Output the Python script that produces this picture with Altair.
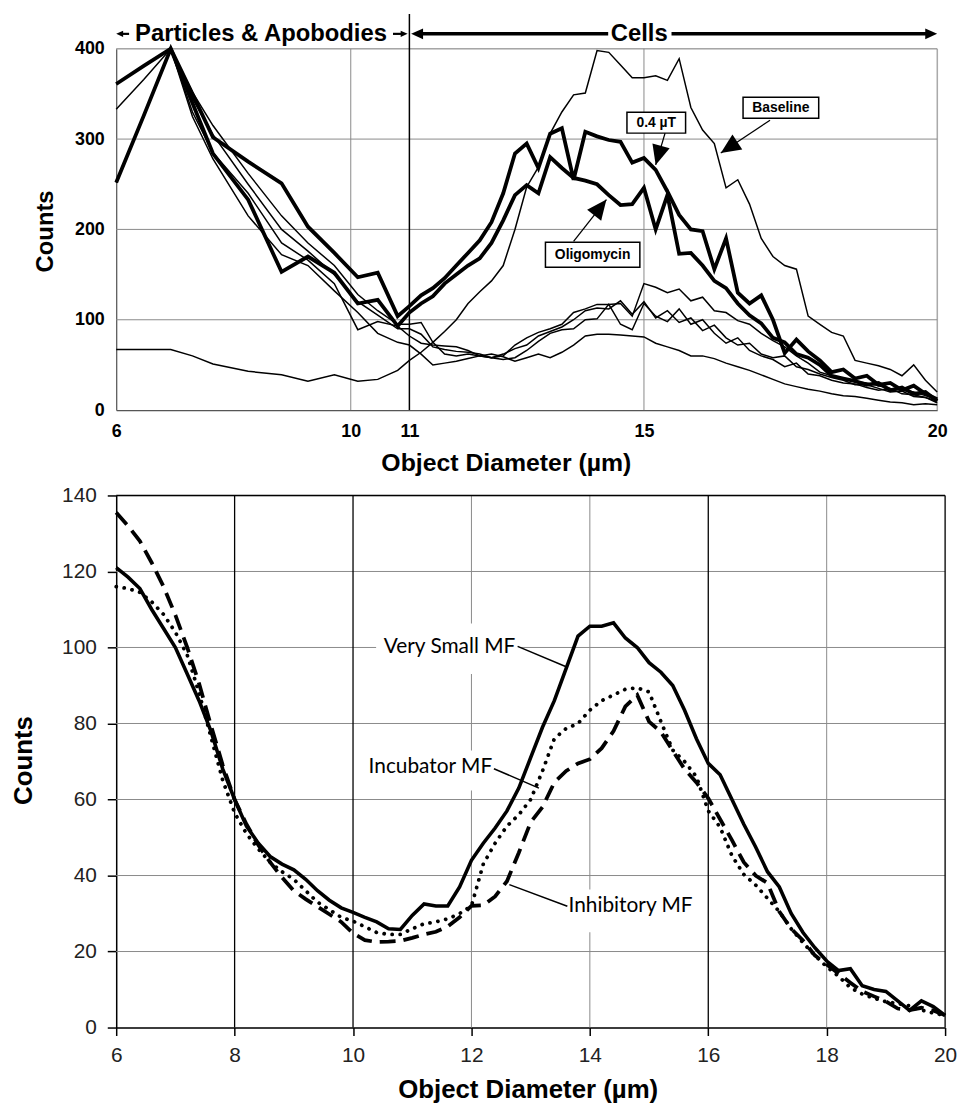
import altair as alt
import pandas as pd

FONT = "Liberation Sans"
LFONT = "Lato"

# ---------------- top panel data ----------------
top_x = [6.0, 6.47, 6.93, 7.3, 7.65, 8.25, 8.82, 9.27, 9.72, 10.12, 10.46, 10.8,
         11.0, 11.2, 11.4, 11.6, 11.8, 12.0, 12.2, 12.4, 12.6, 12.8,
         13.0, 13.2, 13.4, 13.6, 13.8, 14.0, 14.2, 14.4, 14.6, 14.8,
         15.0, 15.2, 15.4, 15.6, 15.8, 16.0, 16.2, 16.4, 16.6, 16.8,
         17.0, 17.2, 17.4, 17.6, 17.8, 18.0, 18.2, 18.4, 18.6, 18.8,
         19.0, 19.2, 19.4, 19.6, 19.8, 20.0]

baseline = [67, 67, 67, 60, 51, 43, 39, 32, 39, 32, 34, 44,
            55, 64, 75, 87, 100, 118, 131, 143, 160, 200,
            247, 269, 306, 330, 349, 351, 398, 396, 382, 368,
            368, 370, 365, 389, 335, 310, 295, 246, 255, 228,
            190, 170, 160, 156, 104, 95, 86, 82, 55, 52,
            49, 45, 38, 50, 33, 20]
uT04 = [361, 381, 400, 350, 302, 275, 251, 203, 174, 147, 152, 104,
        115, 127, 135, 146, 160, 174, 188, 208, 240, 284,
        295, 268, 306, 312, 255, 308, 303, 299, 297, 274,
        279, 266, 242, 216, 200, 198, 156, 190, 130, 118,
        127, 100, 63, 78, 65, 55, 42, 45, 35, 38,
        28, 30, 22, 27, 18, 12]
oligomycin = [252, 326, 400, 340, 284, 233, 153, 170, 152, 118, 122, 93,
              108, 118, 126, 140, 150, 160, 168, 185, 210, 238,
              249, 240, 280, 268, 257, 254, 250, 238, 227, 228,
              246, 200, 238, 173, 174, 160, 143, 135, 118, 105,
              96, 80, 75, 62, 58, 50, 38, 35, 32, 28,
              30, 22, 25, 18, 20, 10]
other_c = [333, 366, 400, 352, 315, 262, 215, 185, 160, 128, 110, 95,
           95, 97, 75, 62, 60, 62, 60, 58, 60, 72,
           80, 86, 90, 95, 108, 112, 117, 117, 118, 104,
           140, 136, 130, 134, 121, 125, 110, 108, 99, 95,
           85, 77, 70, 60, 52, 42, 38, 35, 32, 30,
           27, 24, 22, 20, 16, 12]
other_d = [361, 381, 400, 345, 305, 250, 200, 176, 150, 120, 105, 90,
           90, 84, 70, 67, 65, 64, 62, 58, 56, 58,
           66, 76, 85, 89, 90, 100, 101, 117, 95, 89,
           118, 104, 98, 112, 95, 100, 85, 74, 80, 66,
           60, 56, 48, 52, 40, 38, 33, 30, 29, 25,
           22, 24, 18, 17, 14, 10]
other_e = [252, 326, 400, 330, 285, 240, 185, 166, 140, 89, 98, 93,
           82, 74, 72, 71, 70, 66, 60, 58, 62, 68,
           72, 82, 87, 92, 100, 110, 113, 112, 121, 106,
           120, 102, 110, 97, 102, 88, 94, 80, 72, 74,
           62, 58, 60, 48, 45, 40, 36, 33, 28, 28,
           24, 20, 21, 15, 14, 8]
other_f = [252, 326, 400, 325, 278, 215, 172, 160, 132, 108, 85, 75,
           72, 62, 50, 52, 54, 57, 60, 62, 59, 54,
           58, 62, 58, 64, 72, 82, 84, 84, 83, 82,
           81, 74, 70, 66, 60, 60, 57, 52, 48, 44,
           39, 34, 29, 26, 23, 21, 18, 16, 15, 13,
           11, 9, 8, 6, 7, 6]

thin_series = {"Baseline": baseline, "C": other_c, "D": other_d, "E": other_e, "F": other_f}
thick_series = {"0.4 µT": uT04, "Oligomycin": oligomycin}

top_ticks_x = [6, 10, 11, 15, 20]
top_ticks_y = [0, 100, 200, 300, 400]
top_hgrid = [100, 200, 300, 400]
top_vgrid = [10, 15, 20]

# callout boxes (top)
cb_text = ["Baseline", "0.4 µT", "Oligomycin"]
cb_x1 = [16.69, 14.71, 13.32]
cb_x2 = [17.98, 15.71, 14.93]
cb_y1 = [346.2, 329.7, 185.7]
cb_y2 = [323.1, 306.6, 158.2]
cb_tx = [17.335, 15.21, 14.125]
cb_ty = [334.6, 318.2, 172.0]
cb_lx1 = [17.15, 15.36, 13.80]
cb_ly1 = [320.9, 306.6, 186.8]
cb_lx2 = [16.31, 15.20, 14.36]
cb_ly2 = [284.6, 271.4, 233.0]
cb_angle = [236.6, 195.7, 38.2]

# ---------------- bottom panel data ----------------
bot_x = [round(6 + 0.2 * i, 1) for i in range(71)]
very_small = [121, 118.5, 115.5, 110, 105,
              100, 93, 86, 78, 68,
              60, 53, 48.5, 45, 43,
              41.5, 39, 36, 33.5, 31.5,
              30.3, 29, 27.8, 26, 25.8,
              29.5, 32.5, 32, 32, 37,
              44, 48.5, 52.5, 57, 63,
              71, 79, 86, 94.5, 103,
              105.6, 105.6, 106.5, 102.5, 100,
              96, 93.5, 90, 83.5, 76,
              69.5, 66.5, 60, 53.5, 47.5,
              41, 37, 30, 25, 21,
              17.5, 15, 15.5, 11, 10,
              9.5, 7, 4.5, 7, 5.5,
              3.2]
incubator = [116, 115.5, 114.5, 112, 108.7,
             104, 98, 88, 76.5, 65,
             56.5, 51, 47, 43.5, 41,
             39, 36, 33, 31, 29,
             28, 26.5, 25, 24.5, 24.5,
             26, 27.3, 27.8, 28.6, 30,
             32, 43, 48.5, 53, 56,
             60, 67.5, 76, 78.7, 80,
             83.5, 86, 87.5, 89, 89.4,
             88.3, 80.5, 73, 70, 66,
             57, 52.7, 45.2, 40.3, 37.5,
             34, 30.5, 26, 22.3, 19,
             16, 13.5, 10.5, 8.8, 7.7,
             6.8, 6.3, 5.7, 4.6, 3.8,
             3.2]
inhibitory = [135.5, 132, 128, 122.3, 116,
              108.5, 100, 90.5, 79.5, 69,
              60, 53.5, 48, 43.5, 39.5,
              36, 33.8, 31.8, 29.8, 27.8,
              24.8, 23, 22.5, 22.6, 22.8,
              23.6, 24.5, 25.2, 26.6, 29,
              32, 32.2, 34.5, 38.5, 46,
              54, 58, 64.5, 67.5, 69.5,
              70.6, 73.5, 78, 84.5, 87.5,
              80.5, 77.8, 72.8, 68, 64.5,
              60.3, 54.8, 49.3, 43.5, 40,
              38, 30.5, 26, 22.9, 19,
              16.6, 14.2, 11.8, 9.5, 8.2,
              6.9, 5, 4.6, 5.2, 4.5,
              3.2]

bot_ticks_x = [6, 8, 10, 12, 14, 16, 18, 20]
bot_ticks_y = [0, 20, 40, 60, 80, 100, 120, 140]
bot_hgrid_gray = [20, 40, 60, 80, 100, 120]
bot_hgrid_black = [140]
bot_vgrid_gray = [12, 14, 18]
bot_vgrid_black = [8, 10, 16, 20]

lb_text = ["Very Small MF", "Incubator MF", "Inhibitory MF"]
lb_tx = [12.74, 12.35, 13.64]
lb_ty = [100.0, 68.5, 31.9]
lb_align = ["right", "right", "left"]
lb_bx1 = [10.39, 10.14, 13.50]
lb_bx2 = [12.82, 12.45, 15.83]
lb_by1 = [106.3, 72.9, 36.3]
lb_by2 = [93.0, 62.4, 25.1]
lb_lx1 = [12.78, 12.38, 13.62]
lb_ly1 = [100.3, 68.1, 31.9]
lb_lx2 = [13.62, 13.14, 12.64]
lb_ly2 = [94.8, 63.0, 37.6]

# ---------------- build top panel ----------------
TW, TH = 827, 364
xs_t = alt.Scale(domain=[6, 20], nice=False, zero=False)
ys_t = alt.Scale(domain=[0, 400], nice=False, zero=False)
ax_xt = alt.Axis(values=top_ticks_x, title=None, grid=False, tickSize=0, labelPadding=13, labelFont=FONT,
                 labelFontSize=18, labelFontWeight="bold", labelColor="black", domainColor="#555",
                 domainWidth=1.2, labelOverlap=False, labelFlush=False, format="d")
ax_yt = alt.Axis(values=top_ticks_y, title=None, grid=False, tickSize=0, labelPadding=12, labelFont=FONT,
                 labelFontSize=18, labelFontWeight="bold", labelColor="black", domainColor="#555",
                 domainWidth=1.2, labelFlush=False, format="d")


def tx(f="x"):
    return alt.X(f"{f}:Q", scale=xs_t, axis=ax_xt, title=None)


def ty(f="y"):
    return alt.Y(f"{f}:Q", scale=ys_t, axis=ax_yt, title=None)


rows = []
for name, vals in thin_series.items():
    for xv, yv in zip(top_x, vals):
        rows.append({"series": name, "x": xv, "y": yv, "w": "thin"})
for name, vals in thick_series.items():
    for xv, yv in zip(top_x, vals):
        rows.append({"series": name, "x": xv, "y": yv, "w": "thick"})
top_df = pd.DataFrame(rows)

t_grid_h = alt.Chart(pd.DataFrame({"y": top_hgrid})).mark_rule(color="#8a8a8a", strokeWidth=1).encode(y=ty())
t_grid_v = alt.Chart(pd.DataFrame({"x": top_vgrid})).mark_rule(color="#8a8a8a", strokeWidth=1).encode(x=tx())
t_div = alt.Chart(pd.DataFrame({"x": [11]})).mark_rule(color="black", strokeWidth=1.5).encode(
    x=tx(), y=alt.value(-35), y2=alt.value(TH))

t_thin = alt.Chart(top_df[top_df.w == "thin"]).mark_line(color="black", strokeWidth=1.5).encode(
    x=tx(), y=ty(), detail="series:N")
t_thick = alt.Chart(top_df[top_df.w == "thick"]).mark_line(color="black", strokeWidth=3.8).encode(
    x=tx(), y=ty(), detail="series:N")

# header
hdr_text = alt.Chart(pd.DataFrame({"x": [8.47, 14.92], "t": ["Particles & Apobodies", "Cells"]})).mark_text(
    font=FONT, fontSize=24, fontWeight="bold", baseline="middle", align="center").encode(
    x=tx(), y=alt.value(-15), text="t:N")
hdr_rules = alt.Chart(pd.DataFrame({"x": [11.13, 15.47, 6.08, 10.72], "x2": [14.39, 19.88, 6.22, 10.88],
                                    "w": [3.5, 3.5, 2.2, 2.2]})).mark_rule(color="black").encode(
    x=tx(), x2="x2:Q", y=alt.value(-15), strokeWidth=alt.StrokeWidth("w:Q", scale=None))
ARROW = "M0,0L-0.45,1L0.45,1Z"
hdr_heads = alt.Chart(pd.DataFrame({"x": [11.03, 20.0, 6.0, 10.97], "a": [270, 90, 270, 90],
                                    "s": [576, 576, 196, 196]})).mark_point(
    shape=ARROW, filled=True, color="black", opacity=1).encode(
    x=tx(), y=alt.value(-15), angle=alt.Angle("a:Q", scale=None), size=alt.Size("s:Q", scale=None))

cb_df = pd.DataFrame({"t": cb_text, "x1": cb_x1, "x2": cb_x2, "y1": cb_y1, "y2": cb_y2, "tx": cb_tx,
                      "ty": cb_ty, "lx1": cb_lx1, "ly1": cb_ly1, "lx2": cb_lx2, "ly2": cb_ly2, "a": cb_angle})
cb_lead = alt.Chart(cb_df).mark_rule(color="black", strokeWidth=1.3).encode(
    x=tx("lx1"), y=ty("ly1"), x2="lx2:Q", y2="ly2:Q")
cb_head = alt.Chart(cb_df).mark_point(shape=ARROW, filled=True, color="black", opacity=1, size=1600).encode(
    x=tx("lx2"), y=ty("ly2"), angle=alt.Angle("a:Q", scale=None))
cb_box = alt.Chart(cb_df).mark_rect(fill="white", stroke="black", strokeWidth=1.5).encode(
    x=tx("x1"), x2="x2:Q", y=ty("y1"), y2="y2:Q")
cb_txt = alt.Chart(cb_df).mark_text(font=FONT, fontSize=14, fontWeight="bold", align="center",
                                    baseline="middle").encode(x=tx("tx"), y=ty("ty"), text="t:N")

t_xtitle = alt.Chart(pd.DataFrame({"t": ["Object Diameter (µm)"]})).mark_text(
    font=FONT, fontWeight="bold", fontSize=25, align="center", baseline="middle").encode(
    x=alt.value(393), y=alt.value(417), text="t:N")
t_ytitle = alt.Chart(pd.DataFrame({"t": ["Counts"]})).mark_text(
    font=FONT, fontWeight="bold", fontSize=24, align="center", baseline="middle", angle=270).encode(
    x=alt.value(-71), y=alt.value(184), text="t:N")

top = alt.layer(t_grid_h, t_grid_v, t_div, t_thin, t_thick, hdr_rules, hdr_heads, hdr_text,
                cb_lead, cb_head, cb_box, cb_txt, t_xtitle, t_ytitle).properties(width=TW, height=TH)

# ---------------- build bottom panel ----------------
BW, BH = 835, 536
xs_b = alt.Scale(domain=[6, 20], nice=False, zero=False)
ys_b = alt.Scale(domain=[0, 140], nice=False, zero=False)
ax_xb = alt.Axis(values=bot_ticks_x, title=None, grid=False, tickSize=8, tickColor="black", tickWidth=1.5,
                 labelPadding=9, labelFont=FONT, labelFontSize=21, labelColor="#222", domainColor="black",
                 domainWidth=1.5, labelOverlap=False, labelFlush=False, format="d")
ax_yb = alt.Axis(values=bot_ticks_y, title=None, grid=False, tickSize=9, tickColor="black", tickWidth=1.5,
                 labelPadding=11, labelFont=FONT, labelFontSize=21, labelColor="#222", domainColor="black",
                 domainWidth=1.5, labelFlush=False, format="d")


def bx(f="x"):
    return alt.X(f"{f}:Q", scale=xs_b, axis=ax_xb, title=None)


def by(f="y"):
    return alt.Y(f"{f}:Q", scale=ys_b, axis=ax_yb, title=None)


b_gh = alt.Chart(pd.DataFrame({"y": bot_hgrid_gray})).mark_rule(color="#8a8a8a", strokeWidth=1).encode(y=by())
b_gv = alt.Chart(pd.DataFrame({"x": bot_vgrid_gray})).mark_rule(color="#8a8a8a", strokeWidth=1).encode(x=bx())
b_bh = alt.Chart(pd.DataFrame({"y": bot_hgrid_black})).mark_rule(color="black", strokeWidth=1.5).encode(y=by())
b_bv = alt.Chart(pd.DataFrame({"x": bot_vgrid_black})).mark_rule(color="black", strokeWidth=1.3).encode(x=bx())

lb_df = pd.DataFrame({"t": lb_text, "tx": lb_tx, "ty": lb_ty, "al": lb_align, "x1": lb_bx1, "x2": lb_bx2,
                      "y1": lb_by1, "y2": lb_by2, "lx1": lb_lx1, "ly1": lb_ly1, "lx2": lb_lx2, "ly2": lb_ly2})
b_box = alt.Chart(lb_df).mark_rect(fill="white").encode(x=bx("x1"), x2="x2:Q", y=by("y1"), y2="y2:Q")

bot_df = pd.DataFrame({"x": bot_x, "vs": very_small, "inc": incubator, "inh": inhibitory})

b_vs = alt.Chart(bot_df).mark_line(color="black", strokeWidth=3.6).encode(x=bx(), y=by("vs"))
b_inc = alt.Chart(bot_df).mark_line(color="black", strokeWidth=3.8, strokeDash=[0.1, 8], strokeCap="round").encode(
    x=bx(), y=by("inc"))
b_inh = alt.Chart(bot_df).mark_line(color="black", strokeWidth=3.8, strokeDash=[16, 8]).encode(x=bx(), y=by("inh"))

b_lead = alt.Chart(lb_df).mark_rule(color="black", strokeWidth=1.5).encode(
    x=bx("lx1"), y=by("ly1"), x2="lx2:Q", y2="ly2:Q")
b_txt_r = alt.Chart(lb_df[lb_df.al == "right"]).mark_text(font=LFONT, fontSize=21, align="right",
                                                           baseline="middle", color="black").encode(
    x=bx("tx"), y=by("ty"), text="t:N")
b_txt_l = alt.Chart(lb_df[lb_df.al == "left"]).mark_text(font=LFONT, fontSize=21, align="left",
                                                          baseline="middle", color="black").encode(
    x=bx("tx"), y=by("ty"), text="t:N")

b_xtitle = alt.Chart(pd.DataFrame({"t": ["Object Diameter (µm)"]})).mark_text(
    font=FONT, fontWeight="bold", fontSize=26, align="center", baseline="middle").encode(
    x=alt.value(415), y=alt.value(599), text="t:N")
b_ytitle = alt.Chart(pd.DataFrame({"t": ["Counts"]})).mark_text(
    font=FONT, fontWeight="bold", fontSize=26, align="center", baseline="middle", angle=270).encode(
    x=alt.value(-93), y=alt.value(267), text="t:N")

bottom = alt.layer(b_gh, b_gv, b_bh, b_bv, b_box, b_inh, b_inc, b_vs, b_lead, b_txt_r, b_txt_l,
                   b_xtitle, b_ytitle).properties(width=BW, height=BH)

chart = alt.vconcat(top, bottom, spacing=86, bounds="flush").properties(
    padding={"left": 2, "top": 0, "right": 0, "bottom": 0}
).configure_view(stroke=None).configure(font=FONT)

chart.save("out.html", embed_options={"renderer": "svg", "actions": False})
